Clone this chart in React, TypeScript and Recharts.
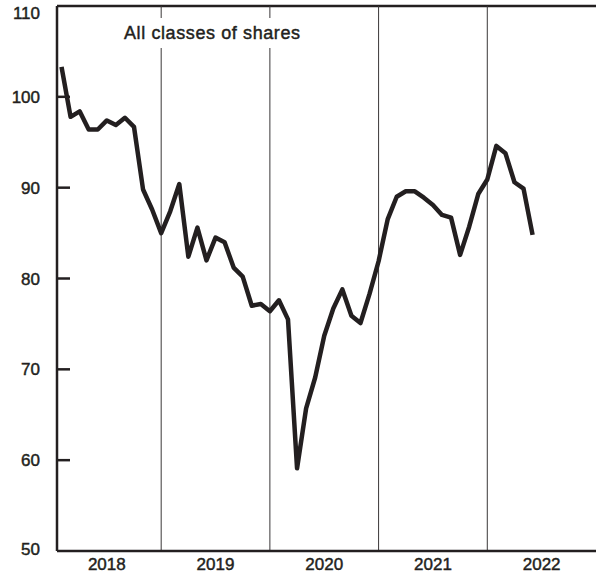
// Share price index, all classes of shares, monthly 2018–2022.

import React from "react";
import { LineChart, Line, XAxis, YAxis, ReferenceLine } from "recharts";

const years = ["2018", "2019", "2020", "2021", "2022"];
const yearMidTicks = [6, 18, 30, 42, 54];
const yearBreaks = [12, 24, 36, 48];
const yTicks = [50, 60, 70, 80, 90, 100, 110];

const values2018 = [103.3, 97.8, 98.4, 96.4, 96.4, 97.4, 96.9, 97.7, 96.7, 89.8, 87.6, 85.0];
const values2019 = [87.4, 90.4, 82.4, 85.6, 82.0, 84.5, 84.0, 81.2, 80.2, 77.0, 77.2, 76.4];
const values2020 = [77.6, 75.5, 59.1, 65.7, 69.1, 73.7, 76.7, 78.8, 75.9, 75.1, 78.3, 81.9];
const values2021 = [86.5, 89.0, 89.6, 89.6, 88.9, 88.1, 87.0, 86.7, 82.6, 85.7, 89.3, 90.9];
const values2022 = [94.6, 93.8, 90.6, 89.9, 84.8];

const INK = "#231f20";
const FONT = "'Liberation Sans', Arial, Helvetica, sans-serif";

const data = [values2018, values2019, values2020, values2021, values2022].flatMap((vals, yi) =>
  vals.map((v, mi) => ({ month: yi * 12 + mi + 1, value: v }))
);

function YTick({ x, y, payload }: { x?: number; y?: number; payload?: { value: number } }) {
  const v = payload?.value ?? 0;
  const shift = v === 110 ? 7 : v === 50 ? -2 : 0;
  return (
    <g>
      {v !== 50 && v !== 110 && (
        <line x1={x} x2={(x ?? 0) + 13} y1={y} y2={y} stroke={INK} strokeWidth={2.5} />
      )}
      <text
        x={(x ?? 0) - 17}
        y={(y ?? 0) + shift}
        dy="0.36em"
        textAnchor="end"
        fontSize={17}
        fontFamily={FONT}
        fill={INK}
        stroke={INK}
        strokeWidth={0.45}
      >
        {v}
      </text>
    </g>
  );
}

function XTick({ x, y, payload }: { x?: number; y?: number; payload?: { value: number } }) {
  const label = years[yearMidTicks.indexOf(payload?.value ?? -1)] ?? "";
  return (
    <text
      x={x}
      y={y}
      dy="0.71em"
      textAnchor="middle"
      fontSize={17}
      fontFamily={FONT}
      fill={INK}
      stroke={INK}
      strokeWidth={0.45}
    >
      {label}
    </text>
  );
}

export default function App() {
  return (
    <div style={{ position: "absolute", left: 0, top: 0, width: 596, height: 577, background: "#fff" }}>
      <LineChart width={596} height={577} data={data} margin={{ top: 6, right: 0, bottom: 0, left: 0 }}>
        <XAxis
          dataKey="month"
          type="number"
          domain={[0.5, 60]}
          ticks={yearMidTicks}
          height={26}
          tickLine={false}
          tickSize={0}
          tickMargin={7}
          axisLine={{ stroke: INK, strokeWidth: 2.5 }}
          tick={<XTick />}
          interval={0}
          allowDataOverflow
        />
        <YAxis
          type="number"
          domain={[50, 110]}
          ticks={yTicks}
          width={57}
          tickLine={false}
          tickSize={0}
          tickMargin={0}
          axisLine={{ stroke: INK, strokeWidth: 2.5 }}
          tick={<YTick />}
          interval={0}
        />
        <ReferenceLine y={110} stroke={INK} strokeWidth={2.5} />
        {yearBreaks.map((m) => (
          <ReferenceLine key={m} x={m} stroke="#3a3738" strokeWidth={1} />
        ))}
        <Line
          type="linear"
          dataKey="value"
          stroke={INK}
          strokeWidth={4.5}
          strokeLinejoin="round"
          dot={false}
          isAnimationActive={false}
        />
      </LineChart>
      <div
        style={{
          position: "absolute",
          left: 121,
          top: 18,
          fontFamily: FONT,
          fontSize: 18,
          letterSpacing: 0.6,
          lineHeight: "30px",
          color: INK,
          WebkitTextStroke: "0.45px " + INK,
          whiteSpace: "nowrap",
          background: "#fff",
          padding: "0 3px",
        }}
      >
        All classes of shares
      </div>
    </div>
  );
}
